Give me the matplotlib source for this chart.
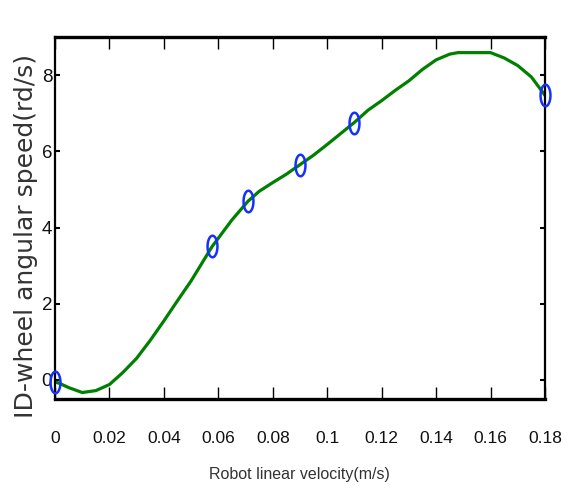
import numpy as np
import matplotlib
matplotlib.use("Agg")
import matplotlib.pyplot as plt
from matplotlib.path import Path

# ---- data ----
curve_x = [0.000, 0.002, 0.005, 0.010, 0.015, 0.020, 0.025, 0.030, 0.035, 0.040,
           0.045, 0.050, 0.0577, 0.065, 0.0709, 0.075, 0.080, 0.085, 0.090, 0.095,
           0.100, 0.105, 0.110, 0.115, 0.120, 0.125, 0.130, 0.135, 0.140, 0.145,
           0.148, 0.155, 0.160, 0.165, 0.170, 0.175, 0.180]
curve_y = [-0.05, -0.10, -0.20, -0.33, -0.28, -0.12, 0.20, 0.57, 1.04, 1.55,
           2.08, 2.60, 3.50, 4.20, 4.69, 4.95, 5.18, 5.40, 5.65, 5.90,
           6.18, 6.47, 6.76, 7.08, 7.33, 7.60, 7.85, 8.15, 8.40, 8.55,
           8.59, 8.59, 8.59, 8.45, 8.25, 7.95, 7.47]
meas_x = [0.0, 0.0577, 0.0709, 0.090, 0.110, 0.180]
meas_y = [-0.05, 3.52, 4.69, 5.65, 6.75, 7.47]
xticks = [0, 0.02, 0.04, 0.06, 0.08, 0.1, 0.12, 0.14, 0.16, 0.18]
xtick_labels = ["0", "0.02", "0.04", "0.06", "0.08", "0.1", "0.12", "0.14", "0.16", "0.18"]
yticks = [0, 2, 4, 6, 8]
ytick_labels = ["0", "2", "4", "6", "8"]
xlabel = "Robot linear velocity(m/s)"
ylabel = "ID-wheel angular speed(rd/s)"

tick_fam = ["Liberation Sans", "DejaVu Sans"]

fig = plt.figure(figsize=(5.70, 4.93), dpi=100)
ax = fig.add_axes([55 / 570, 1 - 399 / 493, 490 / 570, 362 / 493])

ax.plot(curve_x, curve_y, color="#008000", linewidth=2.3, zorder=2)

t = np.linspace(0, 2 * np.pi, 60)
ell = Path(np.column_stack([0.46 * np.cos(t), np.sin(t)]), closed=True)
ax.plot(meas_x, meas_y, linestyle="none", marker=ell, markersize=15.5,
        markerfacecolor="none", markeredgecolor="#1530ff", markeredgewidth=1.8,
        zorder=3, clip_on=False)

ax.set_xlim(0, 0.18)
ax.set_ylim(-0.5, 9)
ax.set_xticks(xticks)
ax.set_xticklabels(xtick_labels, family=tick_fam, fontsize=12.5, color="#111111")
ax.set_yticks(yticks)
ax.set_yticklabels(ytick_labels, family=tick_fam, fontsize=13.5, color="#111111")

ax.tick_params(axis="x", direction="in", top=True, bottom=True, length=8.5, width=1.0, pad=23)
ax.tick_params(axis="y", direction="in", left=True, right=True, length=3.5, width=1.5, pad=2)

for side in ["top", "bottom"]:
    ax.spines[side].set_linewidth(2.4)
for side in ["left", "right"]:
    ax.spines[side].set_linewidth(1.6)

fig.text(299 / 570, 1 - 475 / 493, xlabel, ha="center", va="center",
         family=tick_fam, fontsize=11.5, color="#333333")
fig.text(26 / 570, 1 - 236 / 493, ylabel, ha="center", va="center", rotation=90,
         family=["DejaVu Sans"], fontsize=18, color="#333333")

fig.savefig("out.png", dpi=100)
